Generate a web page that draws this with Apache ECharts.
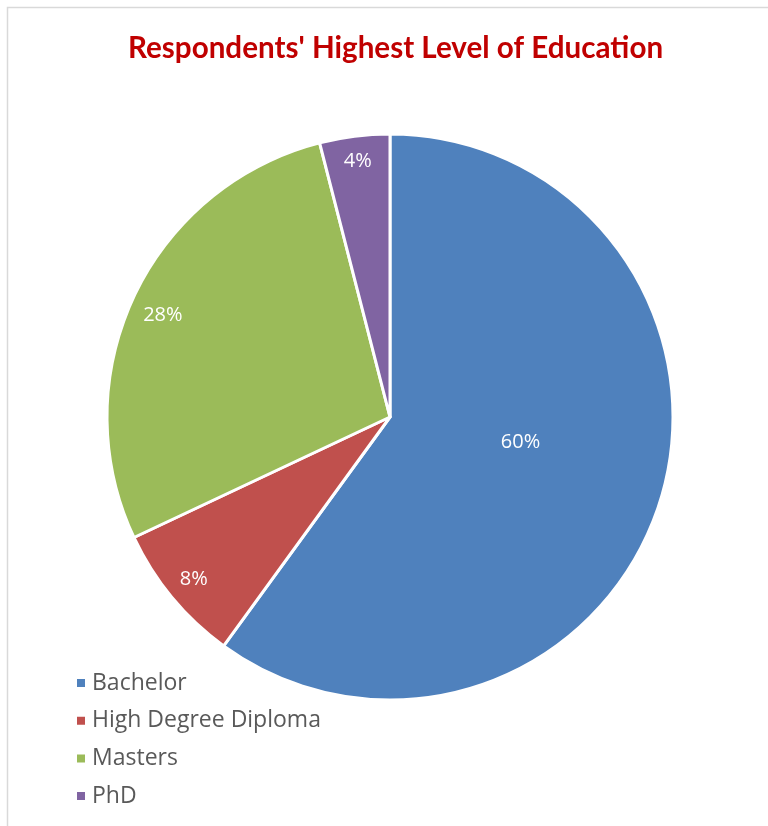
<!DOCTYPE html>
<html>
<head>
<meta charset="utf-8">
<title>Respondents' Highest Level of Education</title>
<script src="https://cdn.jsdelivr.net/npm/echarts@6/dist/echarts.min.js"></script>
<style>
  html, body { margin: 0; padding: 0; background: #ffffff; }
  #chart { width: 768px; height: 826px; }
</style>
</head>
<body>
<div id="chart"></div>
<script>
// Survey breakdown (percent of respondents)
const categories = ['Bachelor', 'High Degree Diploma', 'Masters', 'PhD'];
const shares = [60, 8, 28, 4];
const sliceColors = ['#4F81BD', '#C0504D', '#9BBB59', '#8064A2'];

// Pie geometry (pixels)
const CX = 390, CY = 417, R = 283;
// Where each percent label sits: fraction of radius and angle nudge (deg)
const labelRadiusFrac = [0.47, 0.9, 0.88, 0.91];
const labelAngleNudge = [-7, 0, -1, 0];

const total = shares.reduce((a, b) => a + b, 0);
const midAngles = [];
let acc = 0;
shares.forEach(v => {
  midAngles.push((acc + v / 2) / total * 360);
  acc += v;
});

const chart = echarts.init(document.getElementById('chart'), null, { renderer: 'canvas' });

chart.setOption({
  backgroundColor: '#ffffff',
  animation: false,
  color: sliceColors,
  graphic: [{
    type: 'rect',
    shape: { x: 7.5, y: 7.5, width: 900, height: 900 },
    style: { fill: 'none', stroke: '#d9d9d9', lineWidth: 1.5 },
    silent: true
  }],
  title: {
    text: "Respondents' Highest Level of Education",
    left: 128,
    top: 33,
    padding: 0,
    textStyle: {
      fontFamily: 'Lato',
      fontWeight: 'bold',
      fontSize: 29.6,
      color: '#C00000'
    }
  },
  legend: {
    orient: 'vertical',
    left: 70,
    top: 666,
    icon: 'rect',
    itemWidth: 10,
    itemHeight: 10,
    itemGap: 13.7,
    data: categories,
    textStyle: {
      fontFamily: 'Open Sans',
      fontSize: 23,
      lineHeight: 24,
      color: '#595959',
      padding: [0, 0, 0, 1]
    }
  },
  series: [{
    type: 'pie',
    center: [CX, CY],
    radius: R,
    startAngle: 90,
    clockwise: true,
    avoidLabelOverlap: false,
    itemStyle: { borderColor: '#ffffff', borderWidth: 3 },
    label: {
      show: true,
      position: 'inside',
      formatter: p => p.value + '%',
      color: '#ffffff',
      fontFamily: 'Open Sans',
      fontSize: 20
    },
    labelLine: { show: false },
    labelLayout: params => {
      const i = params.dataIndex;
      const a = (midAngles[i] + labelAngleNudge[i]) * Math.PI / 180;
      const r = R * labelRadiusFrac[i];
      return {
        x: CX + r * Math.sin(a),
        y: CY - r * Math.cos(a),
        align: 'center',
        verticalAlign: 'middle'
      };
    },
    emphasis: { disabled: true },
    data: categories.map((name, i) => ({ name, value: shares[i] }))
  }]
});
</script>
</body>
</html>
